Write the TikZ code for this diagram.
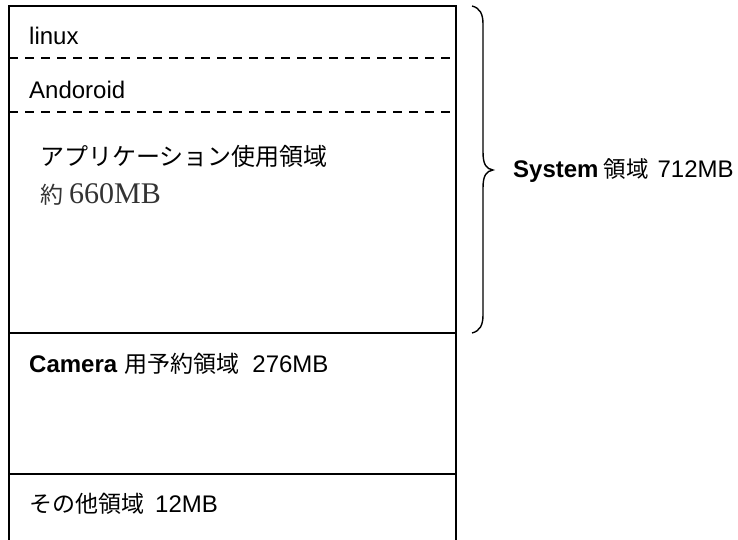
\documentclass[tikz,border=0pt]{standalone}
\usepackage{fontspec}
\setmainfont{Liberation Sans}
\newfontfamily\jp{Noto Sans CJK JP}
\newfontfamily\serifl{Liberation Serif}
\begin{document}
\begin{tikzpicture}[x=1pt,y=-1pt,
  frame/.style={line width=1.7pt,black},
  dashsep/.style={line width=1.4pt,black,dash pattern=on 9pt off 7pt},
  lbl/.style={anchor=base west,inner sep=0pt,font=\fontsize{24}{28}\selectfont},
  brc/.style={line width=1.4pt,black}]
\useasboundingbox (0,0) rectangle (738,540);
% frame corners
\coordinate (tl) at (9,6);
\coordinate (tr) at (456,6);
\coordinate (bl) at (9,545);
\coordinate (br) at (456,545);
\coordinate (d1l) at (9,58);
\coordinate (d1r) at (456,58);
\coordinate (d2l) at (9,112);
\coordinate (d2r) at (456,112);
\coordinate (s1l) at (9,333);
\coordinate (s1r) at (456,333);
\coordinate (s2l) at (9,474);
\coordinate (s2r) at (456,474);
\draw[frame] (bl) -- (tl) -- (tr) -- (br);
\draw[dashsep] (d1l) -- (d1r);
\draw[dashsep] (d2l) -- (d2r);
\draw[frame] (s1l) -- (s1r);
\draw[frame] (s2l) -- (s2r);
% brace
\coordinate (bt) at (472,6);
\coordinate (bb) at (472,333);
\coordinate (tip) at (493,170);
\draw[brc] (bt) .. controls (480,8) and (483,14) .. (483,24)
  -- (483,152) .. controls (483,164) and (486,169) .. (tip)
  .. controls (486,171) and (483,176) .. (483,188)
  -- (483,315) .. controls (483,325) and (480,331) .. (bb);
% labels
\node[lbl] (linux) at (29,45) {linux};
\node[lbl] (andr) at (29,99) {Andoroid};
\node[lbl,font=\jp\fontsize{24}{28}\selectfont] (app) at (40,166) {アプリケーション使用領域};
\node[lbl,text=black!80] (size) at (40,204) {{\jp\fontsize{23}{28}\selectfont 約}\hspace{6pt}{\serifl\fontsize{30}{32}\selectfont 660MB}};
\node[lbl] (sys) at (513,178) {\textbf{System}\hspace{5pt}{\jp\fontsize{22.5}{28}\selectfont 領域}\hspace{9pt}712MB};
\node[lbl] (cam) at (29,372) {\textbf{Camera}\hspace{7pt}{\jp\fontsize{23}{28}\selectfont 用予約領域}\hspace{13pt}276MB};
\node[lbl] (oth) at (29,512) {{\jp\fontsize{23}{28}\selectfont その他領域}\hspace{11pt}12MB};
\end{tikzpicture}
\end{document}
